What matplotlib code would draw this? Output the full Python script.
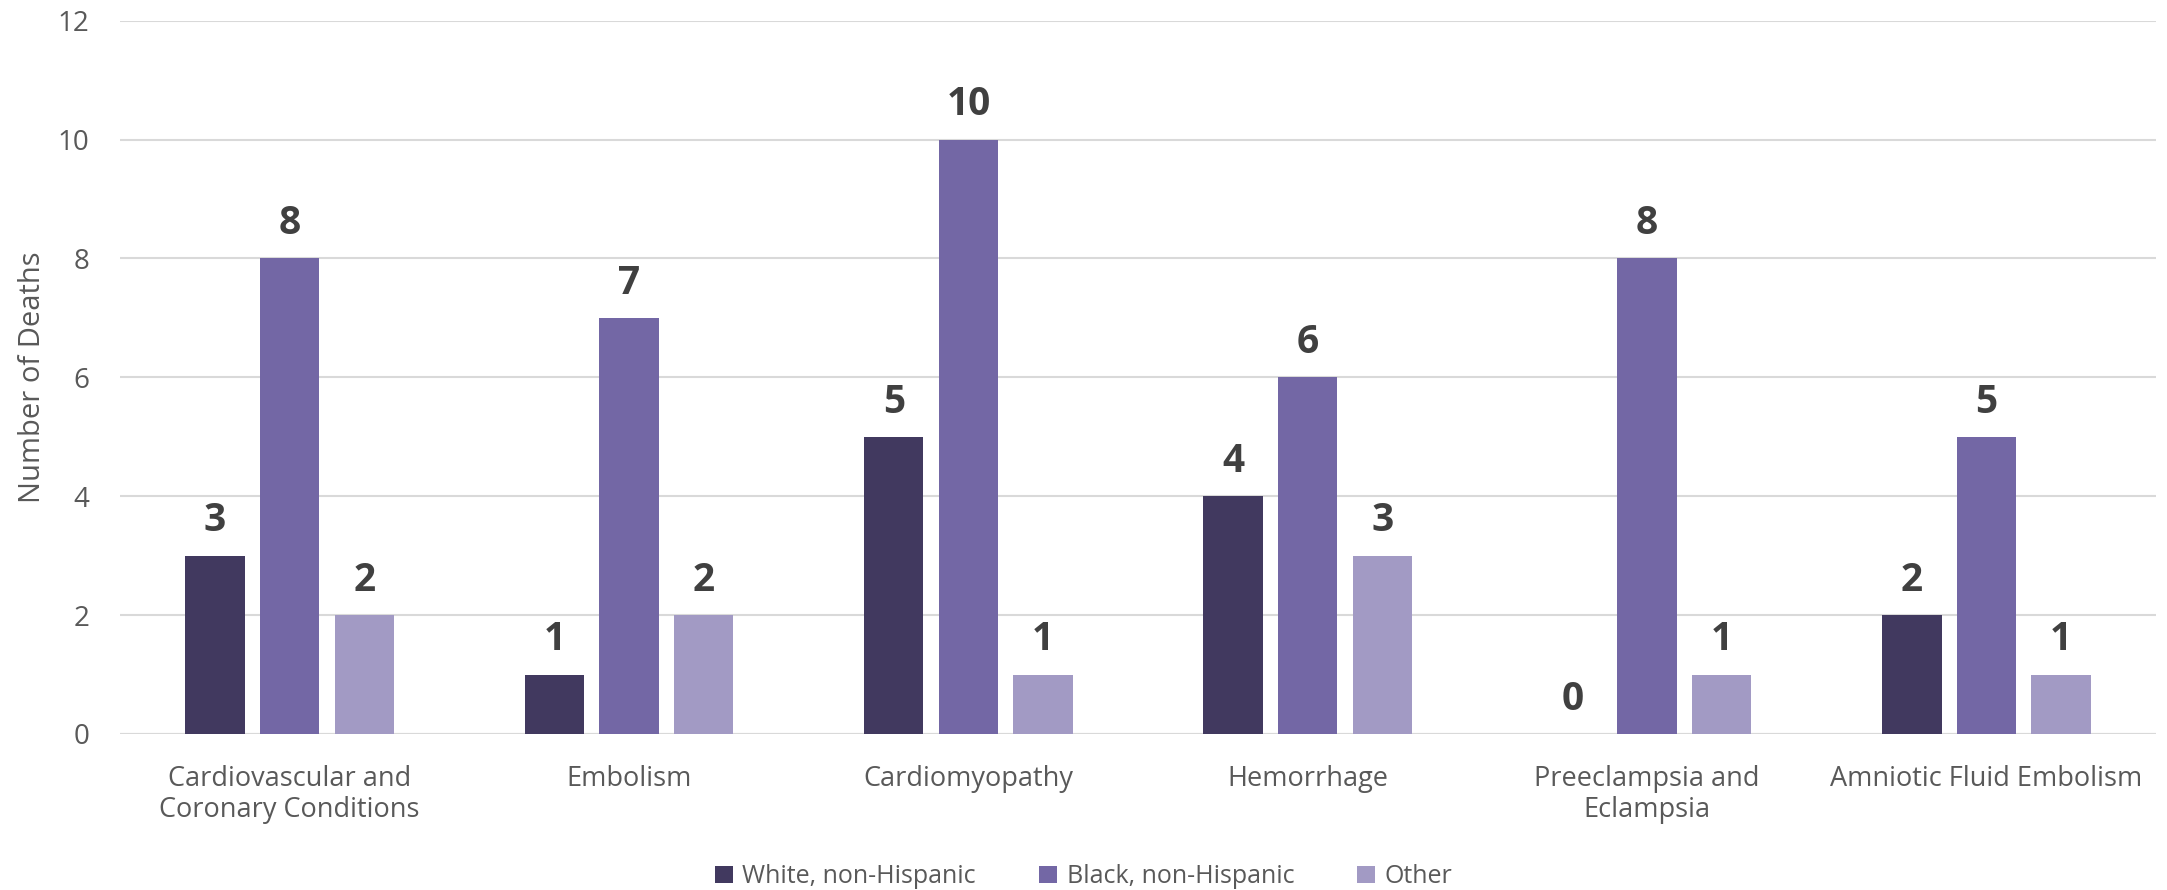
import matplotlib.pyplot as plt
import numpy as np

categories = ['Cardiovascular and\nCoronary Conditions', 'Embolism', 'Cardiomyopathy',
              'Hemorrhage', 'Preeclampsia and\nEclampsia', 'Amniotic Fluid Embolism']
series_names = ['White, non-Hispanic', 'Black, non-Hispanic', 'Other']
white = [3, 1, 5, 4, 0, 2]
black = [8, 7, 10, 6, 8, 5]
other = [2, 2, 1, 3, 1, 1]
yticks = [0, 2, 4, 6, 8, 10, 12]

colors = ['#41395F', '#7367A5', '#A29AC4']

plt.rcParams['font.family'] = ['Open Sans', 'DejaVu Sans']

fig = plt.figure(figsize=(21.67, 8.9), dpi=100)
ax = fig.add_axes([0.0554, 0.1753, 0.9396, 0.8014])

x = np.arange(len(categories))
w = 0.175
step = 0.22
for i, (vals, name) in enumerate(zip([white, black, other], series_names)):
    pos = x + (i - 1) * step
    bars = ax.bar(pos, vals, width=w, color=colors[i], label=name, zorder=3)
    for b, v in zip(bars, vals):
        ax.annotate(str(v), (b.get_x() + b.get_width() / 2, v), xytext=(0, 11),
                    textcoords='offset points', ha='center', va='bottom',
                    fontsize=28, fontweight='bold', color='#404040')

ax.set_xlim(-0.5, len(categories) - 0.5)
ax.set_ylim(0, 12)
ax.set_yticks(yticks)
ax.grid(axis='y', color='#D9D9D9', linewidth=1.5, zorder=0)
for s in ['top', 'right', 'left', 'bottom']:
    ax.spines[s].set_visible(False)
ax.axhline(0, color='#D9D9D9', linewidth=1.5, zorder=1)
ax.tick_params(axis='both', length=0, colors='#595959', labelsize=20)
ax.tick_params(axis='y', pad=22)
ax.tick_params(axis='x', pad=22, labelsize=19.5)
ax.set_xticks(x)
ax.set_xticklabels(categories, linespacing=1.15)
ax.set_ylabel('Number of Deaths', fontsize=21, color='#595959', labelpad=8)

fig.legend(loc='center', ncol=3, frameon=False, fontsize=18, bbox_to_anchor=(0.5, 0.015),
           handlelength=0.72, handleheight=0.72, handletextpad=0.4, columnspacing=2.5,
           labelcolor='#595959')

fig.savefig('out.png', dpi=100)
